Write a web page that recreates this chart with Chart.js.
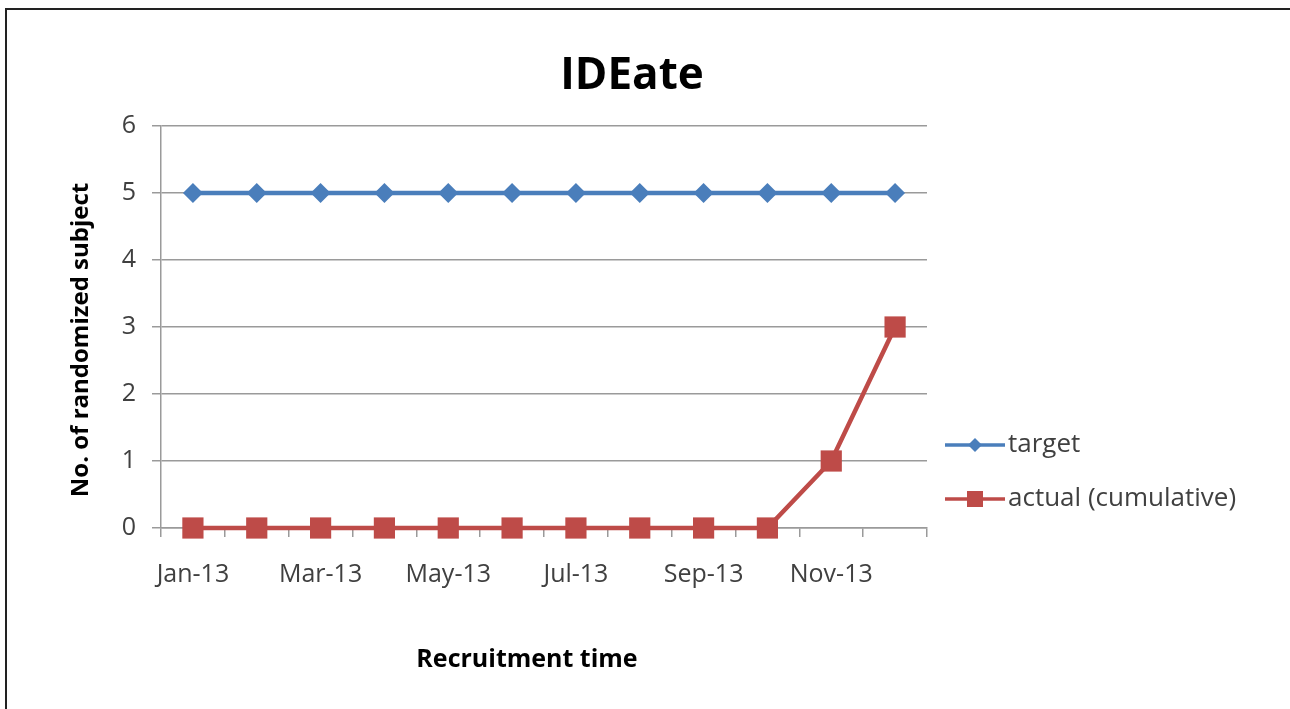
<!DOCTYPE html>
<html>
<head>
<meta charset="utf-8">
<script src="https://cdn.jsdelivr.net/npm/chart.js@4/dist/chart.umd.min.js"></script>
<style>
  html, body { margin: 0; padding: 0; background: #fff; overflow: hidden; }
  #wrap { position: relative; width: 1290px; height: 709px; overflow: hidden; }
  #frame { position: absolute; left: 5px; top: 8px; width: 1300px; height: 720px;
           border-top: 2px solid #222; border-left: 2px solid #222; }
  canvas { position: absolute; left: 0; top: 0; }
</style>
</head>
<body>
<div id="wrap">
  <div id="frame"></div>
  <canvas id="c" width="1290" height="709"></canvas>
</div>
<script>
  // ── 数据 ──
  const MONTHS = ['Jan-13', 'Feb-13', 'Mar-13', 'Apr-13', 'May-13', 'Jun-13',
                  'Jul-13', 'Aug-13', 'Sep-13', 'Oct-13', 'Nov-13', 'Dec-13'];
  const TARGET = [5, 5, 5, 5, 5, 5, 5, 5, 5, 5, 5, 5];
  const ACTUAL = [0, 0, 0, 0, 0, 0, 0, 0, 0, 0, 1, 3];
  const Y_TICKS = [0, 1, 2, 3, 4, 5, 6];
  const TITLE = 'IDEate';
  const X_TITLE = 'Recruitment time';
  const Y_TITLE = 'No. of randomized subject';

  const FONT = '"Open Sans", Lato, sans-serif';
  const BLUE = '#4a7ebb';
  const RED = '#be4b48';
  const GRID = '#9a9a9a';
  const TEXT = '#404040';

  // ── 标题与坐标轴标题（手绘，位置对齐原图）──
  const titles = {
    id: 'titles',
    afterDraw(chart) {
      const ctx = chart.ctx;
      ctx.save();
      ctx.fillStyle = '#000';
      ctx.textAlign = 'center';
      ctx.textBaseline = 'middle';
      ctx.font = 'bold 44px ' + FONT;
      ctx.fillText(TITLE, 632, 76);
      ctx.font = 'bold 25px ' + FONT;
      ctx.fillText(X_TITLE, 527, 660);
      ctx.translate(81, 340);
      ctx.rotate(-Math.PI / 2);
      ctx.font = 'bold 24px ' + FONT;
      ctx.fillText(Y_TITLE, 0, 0);
      ctx.restore();
    }
  };

  // ── 右侧图例（手绘）──
  const sideLegend = {
    id: 'sideLegend',
    afterDraw(chart) {
      const ctx = chart.ctx;
      const area = chart.chartArea;
      const x0 = area.right + 18, x1 = x0 + 60;
      const rows = [445, 499];
      chart.data.datasets.forEach((ds, i) => {
        const y = rows[i];
        ctx.save();
        ctx.strokeStyle = ds.borderColor;
        ctx.lineWidth = 3.5;
        ctx.beginPath();
        ctx.moveTo(x0, y); ctx.lineTo(x1, y);
        ctx.stroke();
        ctx.fillStyle = ds.backgroundColor;
        const cx = (x0 + x1) / 2;
        if (ds.pointStyle === 'rectRot') {
          ctx.beginPath();
          ctx.moveTo(cx, y - 7); ctx.lineTo(cx + 7, y);
          ctx.lineTo(cx, y + 7); ctx.lineTo(cx - 7, y);
          ctx.closePath(); ctx.fill();
        } else {
          ctx.fillRect(cx - 8, y - 8, 16, 16);
        }
        ctx.fillStyle = TEXT;
        ctx.font = '26px ' + FONT;
        ctx.textBaseline = 'middle';
        ctx.fillText(ds.label, x1 + 3, y);
        ctx.restore();
      });
    }
  };

  new Chart(document.getElementById('c'), {
    type: 'line',
    data: {
      labels: MONTHS,
      datasets: [
        {
          label: 'target',
          data: TARGET,
          borderColor: BLUE,
          backgroundColor: BLUE,
          borderWidth: 4.5,
          pointStyle: 'rectRot',
          pointRadius: 10,
          pointBorderWidth: 0,
          tension: 0,
          clip: false,
        },
        {
          label: 'actual (cumulative)',
          data: ACTUAL,
          borderColor: RED,
          backgroundColor: RED,
          borderWidth: 4.5,
          pointStyle: 'rect',
          pointRadius: 15,
          pointBorderWidth: 0,
          tension: 0,
          clip: false,
        }
      ]
    },
    options: {
      responsive: false,
      animation: false,
      layout: { padding: { left: 64, right: 363, top: 126, bottom: 32 } },
      plugins: {
        legend: { display: false },
        tooltip: { enabled: false },
        title: { display: false }
      },
      scales: {
        x: {
          offset: true,
          afterFit: s => { s.height = 149; },
          grid: { offset: true, drawOnChartArea: false, drawTicks: true, tickLength: 9, color: GRID, lineWidth: 1.5 },
          border: { display: true, color: GRID, width: 1.5 },
          ticks: {
            autoSkip: false,
            maxRotation: 0,
            color: TEXT,
            padding: 23,
            font: { family: FONT, size: 25 },
            callback: function (v, i) { return i % 2 === 0 ? MONTHS[i] : ''; }
          }
        },
        y: {
          min: 0,
          max: 6,
          afterFit: s => { s.width = 97; },
          afterBuildTicks: s => { s.ticks = Y_TICKS.map(v => ({ value: v })); },
          grid: { color: GRID, lineWidth: 1.5, drawTicks: true, tickLength: 9 },
          border: { display: true, color: GRID, width: 1.5 },
          ticks: { color: TEXT, padding: 16, font: { family: FONT, size: 25 } }
        }
      }
    },
    plugins: [titles, sideLegend]
  });
</script>
</body>
</html>
